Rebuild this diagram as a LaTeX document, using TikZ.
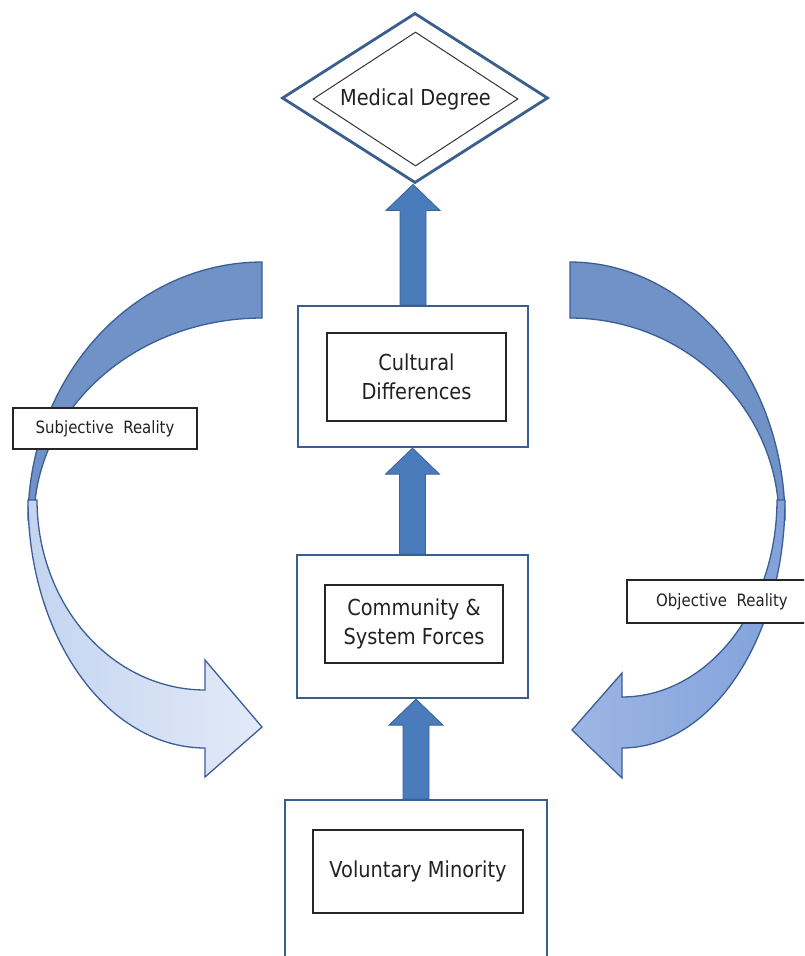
\documentclass[tikz,border=0pt]{standalone}
\usepackage{fontspec}
\setmainfont{DejaVu Sans}[FakeStretch=0.88]
\usetikzlibrary{shapes.geometric,calc}
\definecolor{arrowblue}{HTML}{4A7CBB}
\definecolor{arrowedge}{HTML}{3A6299}
\definecolor{bandedge}{HTML}{3B5E96}
\definecolor{backfill}{HTML}{7092C6}
\definecolor{boxblue}{HTML}{3A5F8F}
\definecolor{txt}{HTML}{222222}
\definecolor{lfrontA}{RGB}{196,212,240}
\definecolor{lfrontB}{RGB}{226,234,248}
\definecolor{rfrontA}{RGB}{156,182,228}
\definecolor{rfrontB}{RGB}{130,162,218}
\tikzset{
  outerbox/.style={draw=boxblue, line width=2.2pt, fill=white, rectangle, inner sep=0pt},
  innerbox/.style={draw=black!85, line width=1.6pt, fill=white, rectangle, inner sep=0pt, text=txt, align=center,
                   font=\fontsize{22}{29}\selectfont},
  labelbox/.style={draw=black!85, line width=1.6pt, fill=white, rectangle, inner sep=0pt, text=txt,
                   font=\fontsize{17}{20}\selectfont},
  blockarrow/.style={fill=arrowblue, draw=arrowedge, line width=0.8pt, line join=miter},
  backband/.style={fill=backfill, draw=bandedge, line width=1.3pt},
}
\newcommand\blockarr[2]{%
  \filldraw[blockarrow] ($(#1)+(-13,0)$) -- ($(#1|-#2)+(-13,26)$) -- ($(#1|-#2)+(-27,26)$)
    -- (#1|-#2) -- ($(#1|-#2)+(27,26)$) -- ($(#1|-#2)+(13,26)$) -- ($(#1)+(13,0)$) -- cycle;}
\begin{document}
\begin{tikzpicture}[x=1pt,y=-1pt]
\useasboundingbox (0,0) rectangle (804,956);
\clip (0,0) rectangle (804,956);
\fill[white] (0,0) rectangle (804,956);

% left curved arrow
\filldraw[backband] plot[domain=-90:-180,samples=60] ({262+234*cos(\x)},{520+258*sin(\x)})
  -- plot[domain=-180:-90,samples=60] ({262+228*cos(\x)},{520+202*sin(\x)}) -- cycle;
\path[draw=bandedge, line width=1.3pt, left color=lfrontA, right color=lfrontB]
  plot[domain=180:90,samples=60] ({205+177*cos(\x)},{500+248*sin(\x)})
  -- (205,777) -- (262,727) -- (205,660) -- (205,690)
  -- plot[domain=90:180,samples=60] ({205+168*cos(\x)},{500+190*sin(\x)}) -- cycle;

% right curved arrow
\filldraw[backband] plot[domain=-90:0,samples=60] ({570+215*cos(\x)},{520+258*sin(\x)})
  -- plot[domain=0:-90,samples=60] ({570+209*cos(\x)},{520+202*sin(\x)}) -- cycle;
\path[draw=bandedge, line width=1.3pt, left color=rfrontA, right color=rfrontB]
  plot[domain=0:90,samples=60] ({622+163*cos(\x)},{500+248*sin(\x)})
  -- (622,778) -- (572,730) -- (622,673) -- (622,697)
  -- plot[domain=90:0,samples=60] ({622+155*cos(\x)},{500+197*sin(\x)}) -- cycle;

% diamond
\node[diamond, draw=boxblue, line width=2.8pt, fill=white, aspect=1.565, inner sep=0pt,
      minimum width=266pt, minimum height=170pt] (mdo) at (415,98) {};
\node[diamond, draw=black!80, line width=1pt, fill=white, aspect=1.53, inner sep=0pt,
      minimum width=205pt, minimum height=134pt, text=txt, font=\fontsize{22}{29}\selectfont] (md) at (415.5,99) {Medical Degree};

% boxes
\node[outerbox, minimum width=230pt, minimum height=141pt] (cuo) at (413,376.5) {};
\node[innerbox, minimum width=179pt, minimum height=88pt] (cu) at (416.5,377) {Cultural\\Differences};
\node[outerbox, minimum width=231pt, minimum height=143pt] (coo) at (412.5,626.5) {};
\node[innerbox, minimum width=178pt, minimum height=78pt] (co) at (414,624) {Community \&\\System Forces};
\node[outerbox, minimum width=262pt, minimum height=200pt] (voo) at (416,900) {};
\node[innerbox, minimum width=210pt, minimum height=83pt] (vo) at (418,871.5) {Voluntary Minority};

% vertical block arrows
\blockarr{voo.north}{coo.south}
\blockarr{coo.north}{cuo.south}
\blockarr{cuo.north}{mdo.south}

% labels
\node[labelbox, minimum width=184pt, minimum height=41pt] (sr) at (105,428.5) {Subjective\ \ Reality};
\node[labelbox, minimum width=190pt, minimum height=43pt] (or) at (722,601.5) {Objective\ \ Reality};
\end{tikzpicture}
\end{document}
